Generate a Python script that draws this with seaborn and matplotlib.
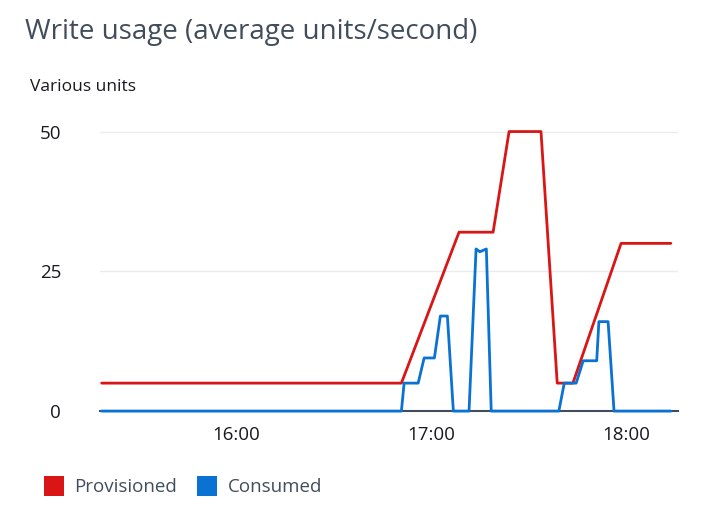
import pandas as pd
import matplotlib
matplotlib.use("Agg")
import matplotlib.pyplot as plt
import matplotlib.dates as mdates
from matplotlib.lines import Line2D
import seaborn as sns

sns.set_style("white")
plt.rcParams["font.family"] = ["Open Sans", "DejaVu Sans"]

day = "2024-01-01 "
prov_times = ["15:18:30", "16:50:50", "17:08:35", "17:19:05", "17:24:00", "17:33:50",
              "17:38:50", "17:43:40", "17:58:30", "18:13:50"]
prov_values = [5, 5, 32, 32, 50, 50, 5, 5, 30, 30]
cons_times = ["15:18:30", "16:50:50", "16:51:40", "16:56:00", "16:57:50", "17:01:00", "17:02:50",
              "17:05:00", "17:06:50", "17:11:40", "17:13:50", "17:15:00", "17:17:00", "17:18:30",
              "17:39:20", "17:41:00", "17:44:40", "17:46:50", "17:51:00", "17:51:40", "17:54:30",
              "17:56:20", "18:13:50"]
cons_values = [0, 0, 5, 5, 9.5, 9.5, 17, 17, 0, 0, 29, 28.5, 29, 0,
               0, 5, 5, 9, 9, 16, 16, 0, 0]

prov = pd.DataFrame({"time": pd.to_datetime([day + t for t in prov_times]), "value": prov_values})
cons = pd.DataFrame({"time": pd.to_datetime([day + t for t in cons_times]), "value": cons_values})

red = "#d91515"
blue = "#0972d3"

fig = plt.figure(figsize=(7.25, 5.25), dpi=100)
ax = fig.add_axes([0.138, 0.217, 0.797, 0.575])
sns.lineplot(data=prov, x="time", y="value", ax=ax, color=red, linewidth=2)
sns.lineplot(data=cons, x="time", y="value", ax=ax, color=blue, linewidth=2, clip_on=False)

ax.set_xlim(pd.Timestamp(day + "15:18"), pd.Timestamp(day + "18:16"))
ax.set_ylim(0, 54)
ax.set_yticks([0, 25, 50])
ax.xaxis.set_major_locator(mdates.HourLocator())
ax.xaxis.set_major_formatter(mdates.DateFormatter("%H:%M"))
ax.yaxis.grid(True, color="#e9ebed", linewidth=1)
for s in ["top", "right", "left"]:
    ax.spines[s].set_visible(False)
ax.spines["bottom"].set_color("#414d5c")
ax.spines["bottom"].set_linewidth(1.5)
ax.spines["bottom"].set_zorder(1)
ax.tick_params(axis="x", length=5, color="#414d5c", labelsize=13.5, labelcolor="#16191f", pad=6)
ax.tick_params(axis="y", length=0, labelsize=13.5, labelcolor="#16191f", pad=28)
ax.set_xlabel("")
ax.set_ylabel("")

fig.text(0.034, 0.94, "Write usage (average units/second)", fontsize=20, color="#414d5c", va="center")
fig.text(0.042, 0.835, "Various units", fontsize=12.5, color="#16191f", va="center")

handles = [Line2D([], [], marker="s", linestyle="none", markersize=15, color=c, markeredgewidth=0)
           for c in [red, blue]]
fig.legend(handles, ["Provisioned", "Consumed"], loc="center left", bbox_to_anchor=(0.025, 0.072),
           ncol=2, frameon=False, fontsize=13.5, handletextpad=0.1, columnspacing=0.6,
           labelcolor="#414d5c")

fig.savefig("out.png", dpi=100)
